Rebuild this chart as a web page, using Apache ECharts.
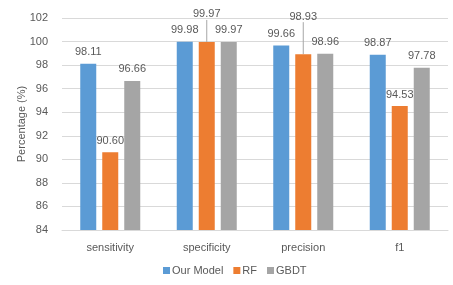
<!DOCTYPE html>
<html><head><meta charset="utf-8">
<script src="https://cdn.jsdelivr.net/npm/echarts@6/dist/echarts.min.js"></script>
<style>html,body{margin:0;padding:0;background:#fff}#c{width:453px;height:285px}</style>
</head><body><div id="c"></div>
<script>
const categories = ['sensitivity', 'specificity', 'precision', 'f1'];
const seriesNames = ['Our Model', 'RF', 'GBDT'];
const ourModel = [98.11, 99.98, 99.66, 98.87];
const rf = [90.60, 99.97, 98.93, 94.53];
const gbdt = [96.66, 99.97, 98.96, 97.78];
const yTicks = [84, 86, 88, 90, 92, 94, 96, 98, 100, 102];

const colors = ['#5B9BD5', '#ED7D31', '#A5A5A5'];
const font = 'Liberation Sans, Arial, sans-serif';
const txt = '#595959';
// label lifts (px) for labels drawn with a leader line: key "seriesIndex-dataIndex"
const lifted = {'1-1': -16, '1-2': -26};

const chart = echarts.init(document.getElementById('c'), null, {renderer: 'canvas'});
const mk = (name, vals, i) => ({
  name, type: 'bar', data: vals.map((v, j) => {
    const o = {value: v};
    if (lifted[i + '-' + j] !== undefined) o.labelLine = {show: true, lineStyle: {color: '#A6A6A6', width: 1}};
    return o;
  }),
  barWidth: 16, barGap: '37.5%',
  itemStyle: {color: colors[i]},
  label: {show: true, position: 'top', distance: 6, color: txt, fontFamily: font, fontSize: 11,
          formatter: p => p.value.toFixed(2)},
  labelLine: {show: false},
  labelLayout: p => {
    const k = p.seriesIndex + '-' + p.dataIndex;
    return lifted[k] !== undefined ? {dy: lifted[k]} : {};
  }
});
chart.setOption({
  animation: false,
  textStyle: {fontFamily: font},
  grid: {left: 62, right: 5, top: 18, bottom: 55},
  legend: {data: seriesNames, left: 163, top: 265, padding: 0, icon: 'rect', itemWidth: 7, itemHeight: 7, itemGap: 10,
    textStyle: {color: txt, fontSize: 11, fontFamily: font, padding: [0, 0, 0, -3]}},
  xAxis: {type: 'category', data: categories,
    axisLine: {lineStyle: {color: '#D9D9D9'}}, axisTick: {show: false},
    axisLabel: {color: txt, fontSize: 11, fontFamily: font, margin: 12}},
  yAxis: {type: 'value', min: yTicks[0], max: yTicks[yTicks.length - 1], interval: 2,
    name: 'Percentage (%)', nameLocation: 'middle', nameGap: 35, nameRotate: 90, nameMoveOverlap: false,
    nameTextStyle: {color: txt, fontSize: 11, fontFamily: font},
    axisLine: {show: false}, axisTick: {show: false},
    axisLabel: {color: txt, fontSize: 11, fontFamily: font, margin: 14},
    splitLine: {lineStyle: {color: '#D9D9D9'}}},
  series: [mk(seriesNames[0], ourModel, 0), mk(seriesNames[1], rf, 1), mk(seriesNames[2], gbdt, 2)]
});
</script></body></html>
